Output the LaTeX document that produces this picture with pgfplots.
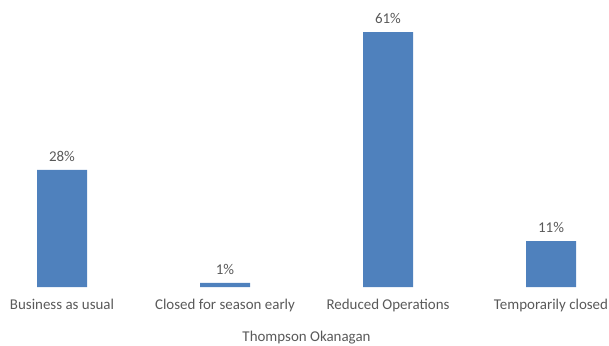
\documentclass[border=0pt]{standalone}
\usepackage{pgfplots}
\pgfplotsset{compat=1.18}
\usepackage{fontspec}
\setmainfont{Carlito}
\definecolor{barblue}{HTML}{4F81BD}
\definecolor{txt}{HTML}{595959}
\begin{document}
\fontsize{15}{18}\selectfont
\begin{tikzpicture}[x=1bp,y=1bp]
\useasboundingbox (0,0) rectangle (609,345);
\begin{axis}[
  at={(62bp,58bp)}, anchor=south west,
  scale only axis, width=489bp, height=255bp,
  xmin=0, xmax=3, ymin=0, ymax=61,
  clip=false,
  axis line style={draw=none},
  tick style={draw=none},
  ytick=\empty,
  xtick={0,1,2,3},
  xticklabels={Business as usual, Closed for season early, Reduced Operations, Temporarily closed},
  xticklabel style={text=txt, font=\fontsize{15}{18}\selectfont, yshift=-7bp},
  xlabel={Thompson Okanagan},
  xlabel style={text=txt, font=\fontsize{15}{18}\selectfont, yshift=-9bp},
  /pgf/number format/assume math mode=true,
  nodes near coords={\pgfmathprintnumber{\pgfplotspointmeta}\%},
  nodes near coords style={text=txt, font=\fontsize{15}{18}\selectfont, yshift=3bp},
]
\addplot[ybar, bar width=50bp, fill=barblue, draw=none] coordinates {(0,28) (1,1) (2,61) (3,11)};
\end{axis}
\end{tikzpicture}
\end{document}
